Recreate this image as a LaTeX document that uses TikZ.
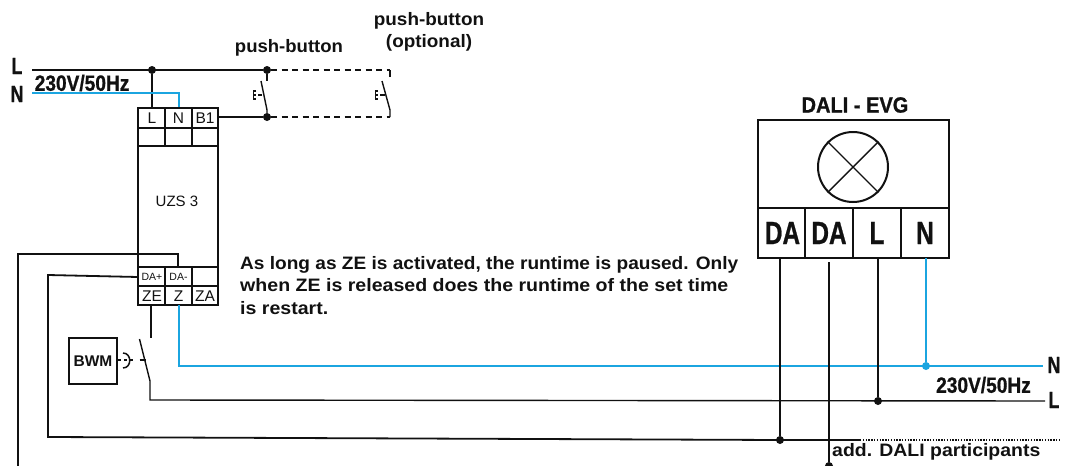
\documentclass[tikz,border=0pt]{standalone}
\usepackage{fontspec}
\setmainfont{Liberation Sans}
\newfontfamily\heavyf[BoldFeatures={FakeBold=1}]{Liberation Sans}
\newcommand{\cond}[2]{\scalebox{#1}[1]{#2}}
\definecolor{wireblue}{HTML}{1BA5E0}
\definecolor{ink}{HTML}{111111}
\tikzset{
  x=1pt,y=-1pt,
  wire/.style={line width=1.8pt,draw=ink},
  bluewire/.style={line width=1.8pt,draw=wireblue},
  frame/.style={line width=2pt,draw=ink},
  thin wire/.style={line width=1.4pt,draw=ink},
  dashwire/.style={line width=1.4pt,draw=ink,dash pattern=on 6pt off 4.5pt},
  dot/.style={circle,fill=ink,inner sep=0pt,minimum size=8pt},
  bluedot/.style={circle,fill=wireblue,inner sep=0pt,minimum size=8pt},
  lbl/.style={inner sep=0pt,text=ink,font=\bfseries\fontsize{18}{20}\selectfont},
  mark label/.style={inner sep=0pt,text=ink,font=\heavyf\bfseries\fontsize{23.5}{25}\selectfont},
  volt/.style={inner sep=0pt,text=ink,font=\heavyf\bfseries\fontsize{22}{24}\selectfont},
  term/.style={inner sep=0pt,text=ink,font=\fontsize{15.5}{17}\selectfont},
  small term/.style={inner sep=0pt,text=ink,font=\fontsize{10.5}{12}\selectfont},
  big term/.style={inner sep=0pt,text=ink,font=\heavyf\bfseries\fontsize{32}{34}\selectfont},
  txt/.style={inner sep=0pt,text=ink,font=\fontsize{18}{19}\selectfont\bfseries}
}
\begin{document}
\begin{tikzpicture}
\useasboundingbox (0,0) rectangle (1066,466);
\clip (0,0) rectangle (1066,466);
% coordinates
\coordinate (Ls) at (32,70);
\coordinate (Ns) at (32,93);
\coordinate (Lout) at (1045,401);
\coordinate (Nout) at (1043,366);
\node[dot] (d1) at (152,70) {};
\node[dot] (d2) at (267,70) {};
\node[dot] (d3) at (267,117) {};
\coordinate (o1) at (390,70);
\coordinate (o2) at (390,117);
% supply
\draw[wire] (Ls) -- (d2);
\draw[wire] (d1) -- (152,108);
\draw[bluewire] (Ns) -- (179,93) -- (179,108);
\draw[dashwire] (d2) -- (o1);
\draw[thin wire] (o1) -- (390,77);
\draw[wire] (218,117) -- (d3);
\draw[dashwire] (d3) -- (o2);
% switch 1
\draw[thin wire] (d2) -- (267,81);
\draw[thin wire] (d3) -- (267,110) -- (261,81);
\draw[thin wire] (258,95) -- (262,95);
\draw[thin wire] (256,91) -- (253.5,91) -- (253.5,99) -- (256,99) (253.5,95) -- (256,95);
% switch 2
\draw[thin wire] (o2) -- (390,110) -- (382,81);
\draw[thin wire] (380,95) -- (385,95);
\draw[thin wire] (378,91) -- (375.5,91) -- (375.5,99) -- (378,99) (375.5,95) -- (378,95);
% UZS box
\draw[frame] (138,108) rectangle (218,305);
\draw[frame] (138,127.5) -- (218,127.5) (138,146) -- (218,146) (138,267) -- (218,267) (138,286) -- (218,286);
\draw[frame] (165,108) -- (165,146) (191.5,108) -- (191.5,146) (165,267) -- (165,305) (191.5,267) -- (191.5,305);
\node[term] at (152,118) {L};
\node[term] at (178.5,118) {N};
\node[term] at (205,118) {B1};
\node[term,font=\fontsize{15}{17}\selectfont] at (177,201) {UZS 3};
\node[small term] at (152,277) {DA+};
\node[small term] at (178.5,277) {DA-};
\node[term] at (152,296) {ZE};
\node[term] at (178.5,296) {Z};
\node[term] at (205,296) {ZA};
% DA wires
\node[dot] (d5) at (780,440) {};
\node[dot] (d6) at (829,466) {};
\draw[wire] (178,267) -- (178,254) -- (18,254) -- (18,466);
\draw[wire] (138,277) -- (48,275) -- (48,437) -- (d5.center);
\draw[wire] (d5.center) -- (860,440);
\draw[line width=1.4pt,draw=ink,dash pattern=on 1.4pt off 1.4pt] (860,440) -- (1060,440);
% Z wire
\node[bluedot] (d7) at (926,366) {};
\node[dot] (d8) at (878,401) {};
\draw[bluewire] (179,305) -- (179,366) -- (Nout);
% ZE wire & switch
\draw[thin wire] (151,305) -- (151,338);
\draw[thin wire] (139.5,339) -- (150,381) -- (150,400) -- (Lout);
\draw[thin wire] (139.5,360) -- (146,360);
% BWM
\node[draw=ink,line width=2pt,minimum width=48pt,minimum height=46pt,inner sep=0pt,font=\bfseries\fontsize{15.5}{17}\selectfont,text=ink] (bwm) at (93,361) {BWM};
\draw[line width=1.5pt,draw=ink] (123,353) .. controls (132,353) and (132,368) .. (123,368);
\draw[thin wire,dash pattern=on 3pt off 3pt] (bwm.east |- 0,360) -- (134,360);
% EVG
\draw[frame] (758,120) rectangle (949,258);
\draw[frame] (758,208) -- (949,208);
\draw[frame] (805,208) -- (805,258) (853,208) -- (853,258) (901,208) -- (901,258);
\node[draw=ink,line width=2pt,circle,minimum size=70pt,inner sep=0pt] (lamp) at (853,167) {};
\draw[thin wire] (lamp.45) -- (lamp.225) (lamp.135) -- (lamp.315);
\node[big term] at (782.5,233) {\cond{.76}{DA}};
\node[big term] at (829,233) {\cond{.76}{DA}};
\node[big term] at (877,233) {\cond{.76}{L}};
\node[big term] at (925,233) {\cond{.76}{N}};
\draw[wire] (780,258) -- (d5);
\draw[wire] (829,262) -- (d6);
\draw[wire] (878,258) -- (d8);
\draw[bluewire] (926,258) -- (d7);
% labels
\node[mark label] at (17,66) {\cond{.75}{L}};
\node[mark label] at (17,94) {\cond{.75}{N}};
\node[volt,anchor=west] at (34.5,83) {\cond{.87}{230V/50Hz}};
\node[lbl] at (289,48) {\cond{1.03}{push-button}};
\node[lbl] at (429,21) {\cond{1.05}{push-button}};
\node[lbl] at (429,43) {\cond{1.05}{(optional)}};
\node[volt] at (855,105) {\cond{.91}{DALI - EVG}};
\node[txt,anchor=west] at (240,264.5) {\cond{1.06}{As long as ZE is activated, the runtime is paused. Only}};
\node[txt,anchor=west] at (240,285.5) {\cond{1.087}{when ZE is released does the runtime of the set time}};
\node[txt,anchor=west] at (240,308) {\cond{1.087}{is restart.}};
\node[mark label] at (1054,365) {\cond{.75}{N}};
\node[mark label] at (1054,400) {\cond{.75}{L}};
\node[volt] at (983.5,385) {\cond{.87}{230V/50Hz}};
\node[lbl,anchor=west] at (832,452) {\cond{1.08}{add. DALI participants}};
\end{tikzpicture}
\end{document}
